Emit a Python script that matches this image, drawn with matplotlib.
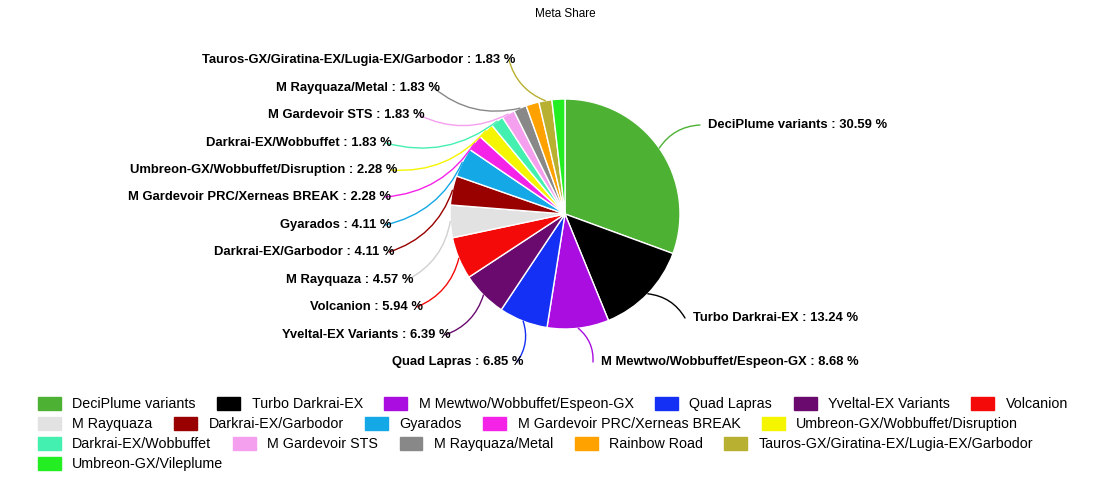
import numpy as np
import matplotlib.pyplot as plt

names = ["DeciPlume variants", "Turbo Darkrai-EX", "M Mewtwo/Wobbuffet/Espeon-GX", "Quad Lapras",
         "Yveltal-EX Variants", "Volcanion", "M Rayquaza", "Darkrai-EX/Garbodor", "Gyarados",
         "M Gardevoir PRC/Xerneas BREAK", "Umbreon-GX/Wobbuffet/Disruption", "Darkrai-EX/Wobbuffet",
         "M Gardevoir STS", "M Rayquaza/Metal", "Rainbow Road", "Tauros-GX/Giratina-EX/Lugia-EX/Garbodor",
         "Umbreon-GX/Vileplume"]
shares = [30.59, 13.24, 8.68, 6.85, 6.39, 5.94, 4.57, 4.11, 4.11, 2.28, 2.28, 1.83, 1.83, 1.83, 1.83, 1.83, 1.82]
colors = ["#4db234", "#000000", "#a90de0", "#1530f5", "#6a0a6e", "#f50a0a", "#e2e2e2", "#990000",
          "#15a8e6", "#f522e8", "#f5f500", "#44f0b0", "#f5a0ef", "#888888", "#ffa200", "#b8b030", "#22ee22"]
show_label = [True] * 14 + [False, True, False]
# label text anchor (pixels from top-left), alignment
label_pos = {0: (708, 125, "left"), 1: (693, 318, "left"), 2: (601, 362, "left"),
             3: (523, 362, "right"), 4: (451, 335, "right"), 5: (423, 307, "right"),
             6: (413, 280, "right"), 7: (395, 252, "right"), 8: (391, 225, "right"),
             9: (391, 197, "right"), 10: (397, 170, "right"), 11: (392, 143, "right"),
             12: (425, 115, "right"), 13: (440, 88, "right"), 15: (515, 60, "right")}

W, H = 1094, 482
fig = plt.figure(figsize=(W / 100, H / 100), dpi=100)
cx, cy, r = 565, 214, 115
ax = fig.add_axes([(cx - r) / W, (H - cy - r) / H, 2 * r / W, 2 * r / H])
wedges, _ = ax.pie(shares, colors=colors, startangle=90, counterclock=False,
                   wedgeprops=dict(edgecolor="white", linewidth=1))
ax.set_aspect("equal")
ax.set_xlim(-1, 1)
ax.set_ylim(-1, 1)

for i, w in enumerate(wedges):
    if not show_label[i]:
        continue
    ang = np.deg2rad((w.theta1 + w.theta2) / 2)
    x, y = np.cos(ang), np.sin(ang)
    tx, ty, ha = label_pos[i]
    lx = tx - 6 if ha == "right" else tx - 8
    ax.annotate("", xy=(x, y), xytext=(lx, H - ty), textcoords="figure pixels",
                arrowprops=dict(arrowstyle="-", color=colors[i] if colors[i] != "#e2e2e2" else "#d0d0d0",
                                lw=1, connectionstyle="arc3,rad=0.25", shrinkA=0, shrinkB=0))
    fig.text(tx / W, 1 - ty / H, f"{names[i]} : {shares[i]:.2f} %", ha=ha, va="center",
             fontsize=9.4, fontweight="bold", family="Liberation Sans")

fig.text(cx / W, 1 - 14 / H, "Meta Share", ha="center", va="center", fontsize=8.5, family="Liberation Sans")

rows = [range(0, 6), range(6, 11), range(11, 16), range(16, 17)]
for k, row in enumerate(rows):
    handles = [plt.Rectangle((0, 0), 1, 1, color=colors[i]) for i in row]
    fig.legend(handles, [names[i] for i in row], ncol=len(row), loc="upper left",
               bbox_to_anchor=(38 / W, 1 - (397 + 20 * k) / H), frameon=False,
               prop=dict(family="Liberation Sans", size=10.3), handlelength=1.6, handleheight=1.0,
               handletextpad=0.8, columnspacing=1.5, borderpad=0, borderaxespad=0)

fig.savefig("out.png", dpi=100)
